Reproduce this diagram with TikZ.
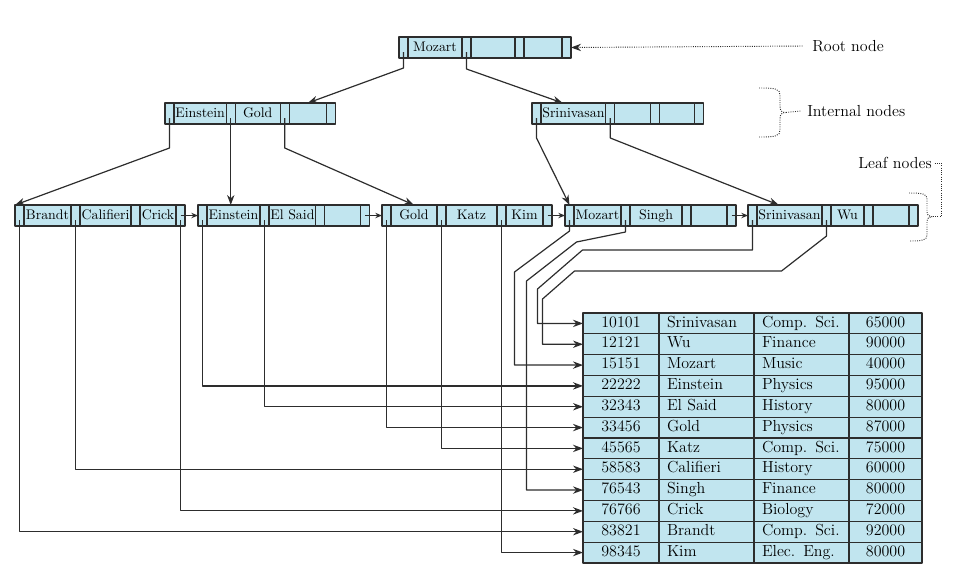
\documentclass[tikz,border=0pt]{standalone}
\usetikzlibrary{positioning,arrows.meta}
\definecolor{cellblue}{RGB}{193,229,239}
\definecolor{linegray}{RGB}{45,45,45}
\tikzset{
  cell/.style={draw=linegray, fill=cellblue, line width=0.8pt, outer sep=0pt, inner sep=0pt,
    minimum height=15.75pt, text height=1.5ex, text depth=.25ex, font=\fontsize{10.4}{12}\selectfont},
  ptrcell/.style={cell, minimum width=6.75pt},
  keycell/.style={cell, inner xsep=1pt},
  tcell/.style={draw=linegray, fill=cellblue, line width=0.8pt, outer sep=0pt, inner ysep=0pt,
    minimum height=15.62pt, text height=1.6ex, text depth=.3ex, font=\fontsize{12}{14}\selectfont},
  idcell/.style={tcell, inner xsep=0pt, text width=57pt, align=center, anchor=north west},
  namecell/.style={tcell, inner xsep=6pt, text width=59.25pt, align=left},
  salcell/.style={tcell, inner xsep=0pt, text width=54.75pt, align=center},
  ptr/.style={->, line width=0.9pt, draw=linegray},
  nextptr/.style={-{Stealth[length=5pt,width=4pt]}, line width=0.9pt, draw=linegray},
  dotline/.style={densely dotted, line width=0.7pt, draw=linegray},
  lbl/.style={inner sep=0pt, font=\fontsize{12}{14}\selectfont}
}
% one node of the tree: pointer, key, pointer, key, pointer, key, pointer
\newcommand{\bpnode}[8]{%
  \node[ptrcell, anchor=north west] (#1-p1) at #2 {};
  \node[keycell, minimum width=#3*0.75pt, right=0pt of #1-p1] (#1-k1) {#4};
  \node[ptrcell, right=0pt of #1-k1] (#1-p2) {};
  \node[keycell, minimum width=#5*0.75pt, right=0pt of #1-p2] (#1-k2) {#6};
  \node[ptrcell, right=0pt of #1-k2] (#1-p3) {};
  \node[keycell, minimum width=#7*0.75pt, right=0pt of #1-p3] (#1-k3) {#8};
  \node[ptrcell, right=0pt of #1-k3] (#1-p4) {};
}
\begin{document}
\begin{tikzpicture}[x=0.75pt, y=-0.75pt, >={Stealth[length=7.5pt,width=5.5pt]}, line join=round]
\useasboundingbox (0,0) rectangle (960,587);
% tree nodes
\bpnode{root}{(399,37)}{54}{Mozart}{44}{}{38}{}
\bpnode{inl}{(165,103)}{52}{Einstein}{45}{Gold}{37}{}
\bpnode{inr}{(532,103)}{64}{Srinivasan}{36}{}{35}{}
\bpnode{lfa}{(15,205)}{47}{Brandt}{51}{Califieri}{36}{Crick}
\bpnode{lfb}{(198,205)}{53}{Einstein}{45}{El Said}{36}{}
\bpnode{lfc}{(382,205)}{46}{Gold}{51}{Katz}{37}{Kim}
\bpnode{lfd}{(565,205)}{47}{Mozart}{52}{Singh}{36}{}
\bpnode{lfe}{(748,205)}{65}{Srinivasan}{33}{Wu}{36}{}

% the file
\foreach \id/\nm/\dep/\sal [count=\i] in {10101/Srinivasan/Comp. Sci./65000, 12121/Wu/Finance/90000,
  15151/Mozart/Music/40000, 22222/Einstein/Physics/95000, 32343/El Said/History/80000,
  33456/Gold/Physics/87000, 45565/Katz/Comp. Sci./75000, 58583/Califieri/History/60000,
  76543/Singh/Finance/80000, 76766/Crick/Biology/72000, 83821/Brandt/Comp. Sci./92000,
  98345/Kim/Elec. Eng./80000}{
  \node[idcell] (rec-\i) at (583,{313+20.83*(\i-1)}) {\id};
  \node[namecell, right=0pt of rec-\i] (nm-\i) {\nm};
  \node[namecell, right=0pt of nm-\i] (dep-\i) {\dep};
  \node[salcell, right=0pt of dep-\i] (sal-\i) {\sal};
}

% root and internal pointers
\draw[ptr] ([yshift=4.5pt]root-p1.south) -- ++(0,16) -- (inl-k3.north);
\draw[ptr] ([yshift=4.5pt]root-p2.south) -- ++(0,17) -- ([xshift=-8pt]inr-k1.north);
\draw[ptr] ([yshift=4.5pt]inl-p1.south) -- ++(0,30) -- (lfa-p1.north west);
\draw[ptr] ([yshift=4.5pt]inl-p2.south) -- (inl-p2 |- lfb-k1.north);
\draw[ptr] ([yshift=4.5pt]inl-p3.south) -- ++(0,30) -- (lfc-k1.north);
\draw[ptr] ([yshift=4.5pt]inr-p1.south) -- ++(0,20) -- (lfd-p1.north);
\draw[ptr] ([yshift=4.5pt]inr-p2.south) -- ++(0,20) -- ([xshift=-8pt]lfe-k1.north);

% leaf chain
\draw[nextptr] (lfa-p4.center) -- (lfb-p1.west);
\draw[nextptr] (lfb-p4.center) -- (lfc-p1.west);
\draw[nextptr] (lfc-p4.center) -- (lfd-p1.west);
\draw[nextptr] (lfd-p4.center) -- (lfe-p1.west);

% leaf pointers to the records
\draw[ptr] ([yshift=4.5pt]lfa-p1.south) |- (rec-11.west);
\draw[ptr] ([yshift=4.5pt]lfa-p2.south) |- (rec-8.west);
\draw[ptr] ([yshift=4.5pt]lfa-p4.south) |- (rec-10.west);
\draw[ptr] ([yshift=4.5pt]lfb-p1.south) |- (rec-4.west);
\draw[ptr] ([yshift=4.5pt]lfb-p2.south) |- (rec-5.west);
\draw[ptr] ([yshift=4.5pt]lfc-p1.south) |- (rec-6.west);
\draw[ptr] ([yshift=4.5pt]lfc-p2.south) |- (rec-7.west);
\draw[ptr] ([yshift=4.5pt]lfc-p3.south) |- (rec-12.west);
\draw[ptr] ([yshift=4.5pt]lfd-p1.south) -- ++(0,11) -- ++(-55,41) |- (rec-3.west);
\draw[ptr] ([yshift=4.5pt]lfd-p2.south) -- ++(0,12) -- ++(-49,10) -- ++(-50,39) |- (rec-9.west);
\draw[ptr] ([yshift=4.5pt]lfe-p1.south) -- ++(0,30) -- ++(-170,0) -- ++(-45,39) |- (rec-1.west);
\draw[ptr] ([yshift=4.5pt]lfe-p2.south) -- ++(0,16) -- ++(-45,35) -- ++(-207,0) -- ++(-32,28) |- (rec-2.west);

% labels
\node[lbl, anchor=west] (rootlbl) at (812,46) {Root node};
\node[lbl, anchor=west] (intlbl) at (807,111) {Internal nodes};
\node[lbl, anchor=east] (leaflbl) at (932,163) {Leaf nodes};
\draw[dotline, ->] ([xshift=-7pt]rootlbl.west) -- (root-p4.east);

\coordinate (inttip) at (786,112.5);
\draw[dotline] (759,88) .. controls (776,88) and (780,89) .. (780,95) -- (780,106)
  .. controls (780,111) and (782,112.5) .. (inttip)
  .. controls (782,112.5) and (780,114) .. (780,119) -- (780,130)
  .. controls (780,136) and (776,137) .. (759,137);
\draw[dotline] (inttip) -- ([xshift=-5pt]intlbl.west);

\coordinate (leaftip) at (932,216.7);
\draw[dotline] (909,193) .. controls (923,193) and (927,194) .. (927,199) -- (927,211)
  .. controls (927,215.5) and (929,216.7) .. (leaftip)
  .. controls (929,216.7) and (927,218) .. (927,222) -- (927,235)
  .. controls (927,240) and (923,241) .. (909,241);
\draw[dotline] ([xshift=2pt]leaflbl.east) -| ([xshift=7pt]leaftip) -- (leaftip);
\end{tikzpicture}
\end{document}
